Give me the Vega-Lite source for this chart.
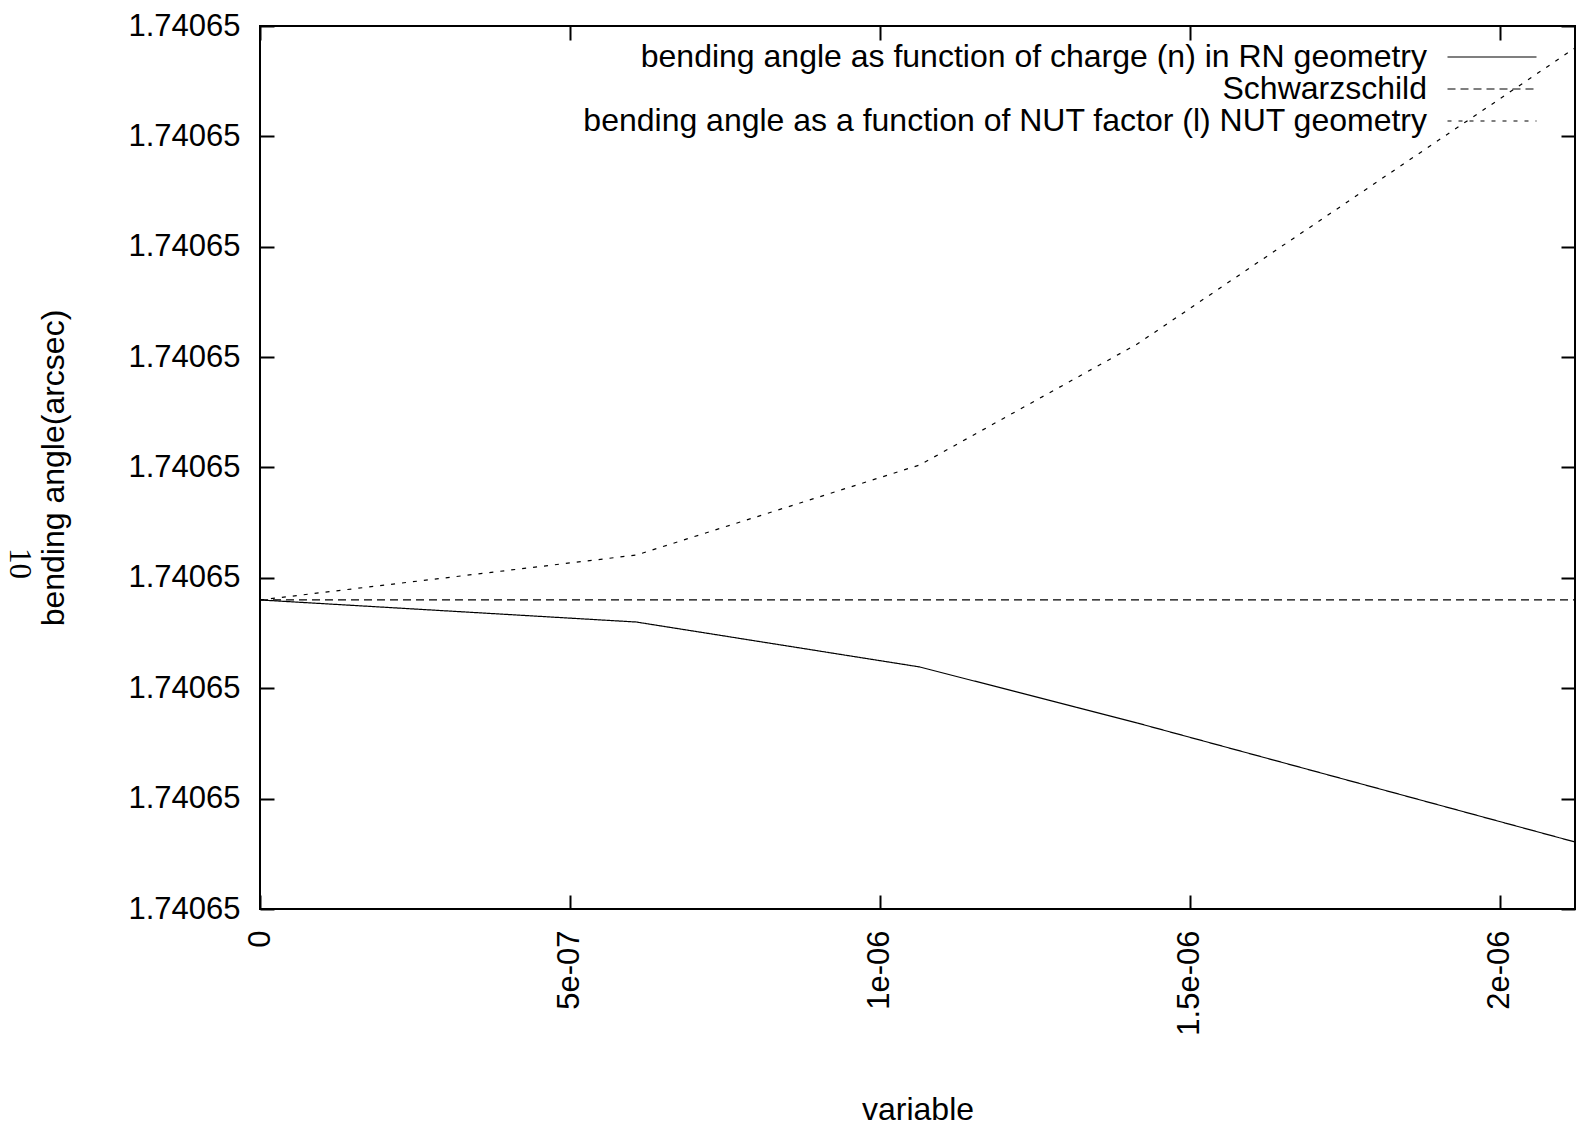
{
  "$schema": "https://vega.github.io/schema/vega-lite/v6.json",
  "width": 1315,
  "height": 883,
  "autosize": {"type": "none"},
  "padding": {"left": 260, "top": 26, "right": 10, "bottom": 218},
  "background": "white",
  "config": {
    "view": {"stroke": "black", "strokeWidth": 2},
    "font": "Liberation Sans",
    "axis": {
      "grid": false,
      "domain": false,
      "tickColor": "black",
      "tickWidth": 2,
      "tickSize": -14,
      "labelFont": "Liberation Sans",
      "labelFontSize": 31,
      "labelColor": "black",
      "titleFont": "Liberation Sans",
      "titleFontSize": 32,
      "titleFontWeight": "normal",
      "titleColor": "black"
    }
  },
  "data": {
    "values": [
      {"variable": 0, "bending_angle": 1.7406499988, "series": "bending angle as function of charge (n) in RN geometry"},
      {"variable": 6.07e-7, "bending_angle": 1.7406499986, "series": "bending angle as function of charge (n) in RN geometry"},
      {"variable": 1.064e-6, "bending_angle": 1.740649998193, "series": "bending angle as function of charge (n) in RN geometry"},
      {"variable": 1.415e-6, "bending_angle": 1.740649997685, "series": "bending angle as function of charge (n) in RN geometry"},
      {"variable": 2.121e-6, "bending_angle": 1.740649996607, "series": "bending angle as function of charge (n) in RN geometry"},
      {"variable": 0, "bending_angle": 1.7406499988, "series": "Schwarzschild"},
      {"variable": 6.07e-7, "bending_angle": 1.7406499988, "series": "Schwarzschild"},
      {"variable": 1.064e-6, "bending_angle": 1.7406499988, "series": "Schwarzschild"},
      {"variable": 1.415e-6, "bending_angle": 1.7406499988, "series": "Schwarzschild"},
      {"variable": 2.121e-6, "bending_angle": 1.7406499988, "series": "Schwarzschild"},
      {"variable": 0, "bending_angle": 1.7406499988, "series": "bending angle as a function of NUT factor (l) NUT geometry"},
      {"variable": 6.07e-7, "bending_angle": 1.740649999207, "series": "bending angle as a function of NUT factor (l) NUT geometry"},
      {"variable": 1.064e-6, "bending_angle": 1.740650000023, "series": "bending angle as a function of NUT factor (l) NUT geometry"},
      {"variable": 1.415e-6, "bending_angle": 1.740650001119, "series": "bending angle as a function of NUT factor (l) NUT geometry"},
      {"variable": 2.121e-6, "bending_angle": 1.740650003801, "series": "bending angle as a function of NUT factor (l) NUT geometry"}
    ]
  },
  "layer": [
    {
      "mark": {"type": "line", "strokeWidth": 1.2, "color": "black"},
      "encoding": {
        "x": {
          "field": "variable",
          "type": "quantitative",
          "scale": {"domain": [0, 2.121e-6], "nice": false, "zero": false},
          "axis": {
            "orient": "bottom",
            "values": [0, 5e-7, 1e-6, 1.5e-6, 2e-6],
            "labelExpr": "datum.value == 0 ? '0' : replace(format(datum.value, '~e'), 'e-', 'e-0')",
            "labelAngle": 270,
            "labelAlign": "right",
            "labelBaseline": "middle",
            "labelPadding": 35,
            "title": "variable",
            "titleX": 657.5,
            "titleY": 200,
            "titleAlign": "center",
            "titleBaseline": "middle"
          }
        },
        "y": {
          "field": "bending_angle",
          "type": "quantitative",
          "scale": {"domain": [1.740649996, 1.740650004], "nice": false, "zero": false},
          "axis": {
            "orient": "left",
            "values": [1.740649996, 1.740649997, 1.740649998, 1.740649999, 1.74065, 1.740650001, 1.740650002, 1.740650003, 1.740650004],
            "labelExpr": "format(datum.value, '.6')",
            "labelPadding": 34,
            "title": "bending angle(arcsec)",
            "titleAngle": 270,
            "titleX": -207,
            "titleY": 441.5,
            "titleAlign": "center",
            "titleBaseline": "middle"
          }
        },
        "strokeDash": {
          "field": "series",
          "type": "nominal",
          "scale": {
            "domain": ["bending angle as function of charge (n) in RN geometry", "Schwarzschild", "bending angle as a function of NUT factor (l) NUT geometry"],
            "range": [[1, 0], [8, 5], [4, 7]]
          },
          "legend": {
            "orient": "none",
            "legendX": 1216,
            "legendY": 15,
            "title": null,
            "padding": 0,
            "offset": 0,
            "rowPadding": 0,
            "symbolType": "M-10,0H10",
            "symbolSize": 79.21,
            "symbolStrokeWidth": 1.2,
            "symbolStrokeColor": "black",
            "labelAlign": "right",
            "labelOffset": -81,
            "labelLimit": 2000,
            "labelFont": "Liberation Sans",
            "labelFontSize": 32,
            "labelColor": "black"
          }
        }
      }
    },
    {
      "mark": {"type": "line", "opacity": 0},
      "encoding": {
        "x": {
          "field": "variable",
          "type": "quantitative",
          "axis": {
            "orient": "top",
            "values": [0, 5e-7, 1e-6, 1.5e-6, 2e-6],
            "labels": false,
            "title": null
          }
        },
        "y": {
          "field": "bending_angle",
          "type": "quantitative",
          "axis": {
            "orient": "right",
            "values": [1.740649996, 1.740649997, 1.740649998, 1.740649999, 1.74065, 1.740650001, 1.740650002, 1.740650003, 1.740650004],
            "labels": false,
            "title": "10",
            "titleFont": "Liberation Serif",
            "titleFontSize": 31,
            "titleAngle": 90,
            "titleX": -1557,
            "titleY": 537,
            "titleAlign": "center",
            "titleBaseline": "middle"
          }
        },
        "detail": {"field": "series", "type": "nominal"}
      }
    }
  ],
  "resolve": {"axis": {"x": "independent", "y": "independent"}}
}
